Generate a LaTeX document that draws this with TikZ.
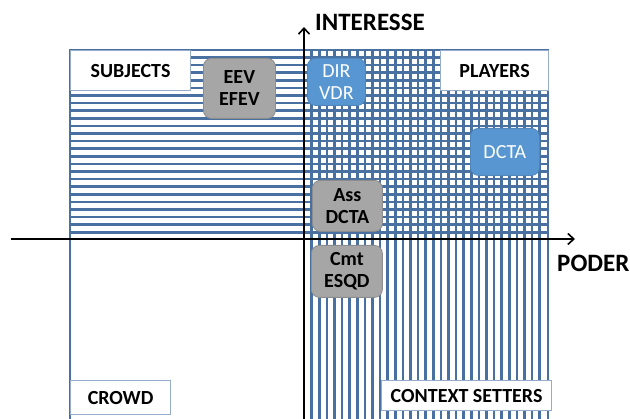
\documentclass[tikz,border=0pt]{standalone}
\usepackage{fontspec}
\setmainfont{Carlito}
\usetikzlibrary{arrows.meta}
\definecolor{hatchblue}{RGB}{72,112,160}
\definecolor{framegray}{RGB}{150,172,204}
\definecolor{boxgray}{RGB}{166,166,166}
\definecolor{boxblue}{RGB}{88,150,210}
\tikzset{>={Straight Barb[length=6pt,width=11pt]}}
\tikzset{
  quadlabel/.style={draw=framegray, fill=white, line width=1.2pt, inner sep=0pt,
    font=\fontsize{20}{22}\selectfont\bfseries},
  graybox/.style={draw=boxgray!85!black, fill=boxgray, line width=0.8pt,
    rounded corners=8pt, align=center, inner sep=0pt,
    font=\fontsize{20}{22}\selectfont\bfseries},
  bluebox/.style={graybox, draw=boxblue!90!black, fill=boxblue, text=white,
    font=\fontsize{20}{22}\selectfont},
  axislabel/.style={anchor=west, inner sep=0pt, font=\fontsize{25}{28}\selectfont\bfseries}
}

\begin{document}
\begin{tikzpicture}[x=1pt,y=-1pt]
    \useasboundingbox (0,0) rectangle (630,419);
    \clip (0,0) rectangle (630,419);
    % hatching: horizontal lines above the power axis
    \foreach \i in {1,...,24} {
        \draw[hatchblue, line width=2.6pt] (70,{50+\i*7.6}) -- (548,{50+\i*7.6});
      }
    % hatching: vertical lines right of the interest axis
    \foreach \i in {1,...,31} {
        \draw[hatchblue, line width=2.6pt] ({304+\i*7.6},50) -- ({304+\i*7.6},425);
      }
    \draw[hatchblue, line width=1.6pt] (70,50) rectangle (548,425);
    \draw[hatchblue, line width=1.6pt] (70,239) -- (304,239);

    % axes
    \coordinate (xstart) at (11,239);
    \coordinate (xend) at (575,239);
    \coordinate (ystart) at (304,425);
    \coordinate (yend) at (304,27);
    \draw[->, line width=1.6pt] (xstart) -- (xend);
    \draw[->, line width=1.6pt] (ystart) -- (yend);
    \node[axislabel] (interesse) at (315,22) {INTERESSE};
    \node[axislabel] (poder) at (557,263) {PODER};

    % quadrant names
    \node[quadlabel, anchor=north west, minimum width=120, minimum height=40] (subjects) at (70,50) {SUBJECTS};
    \node[quadlabel, anchor=north west, minimum width=108, minimum height=40] (players) at (440,50) {PLAYERS};
    \node[quadlabel, anchor=north west, minimum width=100, minimum height=34] (crowd) at (70,380) {CROWD};
    \node[quadlabel, anchor=north west, minimum width=170, minimum height=30] (setters) at (381,380) {CONTEXT SETTERS};

    % stakeholders
    \node[graybox, anchor=north west, minimum width=72, minimum height=60] (eev) at (203,58) {EEV\\EFEV};
    \node[bluebox, anchor=north west, minimum width=58, minimum height=47] (dir) at (307,58) {DIR\\VDR};
    \node[bluebox, anchor=north west, minimum width=69, minimum height=47] (dcta) at (470,128) {DCTA};
    \node[graybox, anchor=north west, minimum width=70, minimum height=51] (ass) at (312,180) {Ass\\DCTA};
    \node[graybox, anchor=north west, minimum width=71, minimum height=52] (cmt) at (311,245) {Cmt\\ESQD};
  \end{tikzpicture}
\end{document}
